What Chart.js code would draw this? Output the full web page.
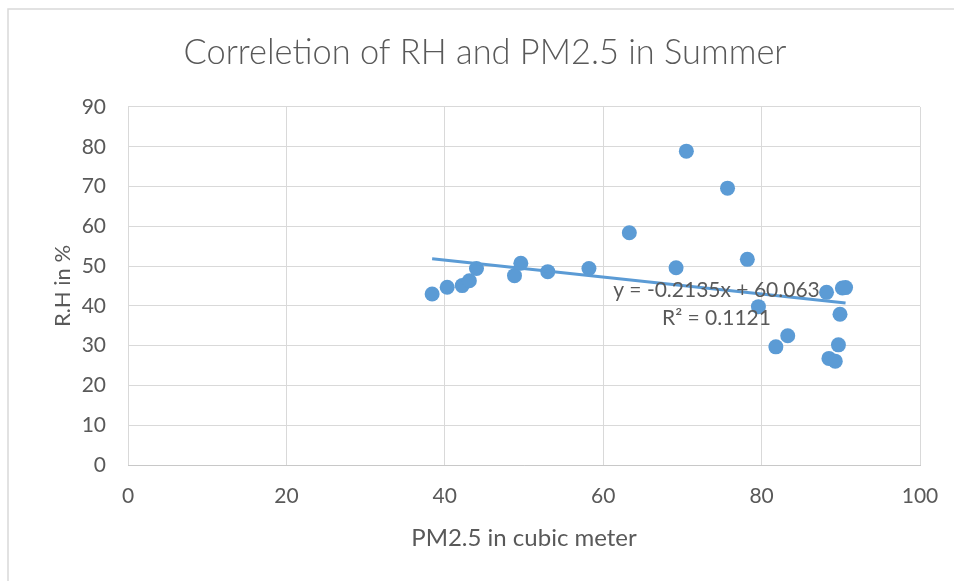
<!DOCTYPE html>
<html>
<head>
<meta charset="utf-8">
<script src="https://cdn.jsdelivr.net/npm/chart.js@4.4.1/dist/chart.umd.min.js"></script>
<style>
  html, body { margin: 0; padding: 0; background: #ffffff; }
  canvas { display: block; }
</style>
</head>
<body>
<canvas id="c" width="954" height="581"></canvas>
<script>
// ---- data ----
const pm25 = [38.4, 40.3, 42.2, 43.1, 44.0, 48.8, 49.6, 53.0, 58.2, 63.3, 69.2, 70.5, 75.7, 78.2, 79.6, 81.8, 83.3, 88.2, 90.2, 90.6, 89.9, 89.7, 88.5, 89.3];
const rh   = [43.0, 44.7, 45.1, 46.3, 49.4, 47.6, 50.7, 48.6, 49.4, 58.4, 49.6, 78.9, 69.6, 51.7, 39.8, 29.7, 32.5, 43.4, 44.5, 44.6, 37.9, 30.2, 26.8, 26.1];
const trendSlope = -0.2135;
const trendIntercept = 60.063;
const trendLabels = ["y = -0.2135x + 60.063", "R\u00B2 = 0.1121"];
const trendLabelAnchor = [74.3, 44.0];
const xTicks = [0, 20, 40, 60, 80, 100];
const yTicks = [0, 10, 20, 30, 40, 50, 60, 70, 80, 90];
const titleText = "Correletion of RH and PM2.5 in Summer";
const xTitle = "PM2.5 in cubic meter";
const yTitle = "R.H in %";

const points = pm25.map((x, i) => ({ x: x, y: rh[i] }));
const xMin = Math.min(...pm25), xMax = Math.max(...pm25);
const trendPts = [xMin, xMax].map(x => ({ x: x, y: trendSlope * x + trendIntercept }));

const TXT = '#595959';
const GRID = '#d9d9d9';
const BLUE = '#5B9BD5';
const FONT = 'Lato, "Open Sans", sans-serif';

const frame = {
  id: 'frame',
  beforeDraw(chart) {
    const ctx = chart.ctx;
    ctx.save();
    ctx.fillStyle = '#ffffff';
    ctx.fillRect(0, 0, chart.width, chart.height);
    ctx.strokeStyle = GRID;
    ctx.lineWidth = 1.5;
    ctx.strokeRect(8, 9, chart.width + 20, chart.height + 20);
    ctx.restore();
  }
};

const trendText = {
  id: 'trendText',
  afterDatasetsDraw(chart) {
    const ctx = chart.ctx;
    const xs = chart.scales.x, ys = chart.scales.y;
    const cx = xs.getPixelForValue(trendLabelAnchor[0]);
    const cy = ys.getPixelForValue(trendLabelAnchor[1]);
    ctx.save();
    ctx.fillStyle = TXT;
    ctx.font = '21px ' + FONT;
    ctx.textAlign = 'center';
    ctx.textBaseline = 'middle';
    trendLabels.forEach((t, i) => ctx.fillText(t, cx, cy + i * 28));
    ctx.restore();
  }
};

new Chart(document.getElementById('c'), {
  type: 'scatter',
  data: {
    datasets: [
      {
        type: 'line',
        data: trendPts,
        borderColor: BLUE,
        borderWidth: 3,
        pointRadius: 0,
        fill: false,
        tension: 0
      },
      {
        type: 'scatter',
        data: points,
        backgroundColor: BLUE,
        borderColor: BLUE,
        pointRadius: 7.5,
        pointBorderWidth: 0
      }
    ]
  },
  options: {
    responsive: false,
    animation: false,
    events: [],
    layout: { padding: { left: 50, right: 34, top: 0, bottom: 0 } },
    plugins: {
      legend: { display: false },
      tooltip: { enabled: false },
      title: {
        display: true,
        text: titleText,
        color: TXT,
        font: { family: FONT, size: 34.4, weight: 300, lineHeight: 1.2 },
        padding: { top: 32.4, bottom: 33.3 }
      }
    },
    scales: {
      x: {
        type: 'linear',
        min: 0, max: 100,
        afterBuildTicks(s) { s.ticks = xTicks.map(v => ({ value: v })); },
        afterFit(s) { s.height = 116; s.paddingLeft = 0; s.paddingRight = 0; },
        grid: { color: GRID, lineWidth: 1, drawTicks: false },
        border: { color: '#c8c8c8', width: 1 },
        ticks: { color: TXT, font: { family: FONT, size: 21 }, padding: 19, maxRotation: 0 },
        title: {
          display: true, text: xTitle, color: TXT,
          font: { family: FONT, size: 24, lineHeight: 1.2 },
          padding: { top: 0, bottom: 28 }
        }
      },
      y: {
        type: 'linear',
        min: 0, max: 90,
        afterBuildTicks(s) { s.ticks = yTicks.map(v => ({ value: v })); },
        afterFit(s) { s.width = 78; },
        grid: { color: GRID, lineWidth: 1, drawTicks: false },
        border: { display: false },
        ticks: { color: TXT, font: { family: FONT, size: 21 }, padding: 22 },
        title: {
          display: true, text: yTitle, color: TXT,
          font: { family: FONT, size: 22, lineHeight: 1.2 },
          padding: { top: 0, bottom: 0 }
        }
      }
    }
  },
  plugins: [frame, trendText]
});
</script>
</body>
</html>
